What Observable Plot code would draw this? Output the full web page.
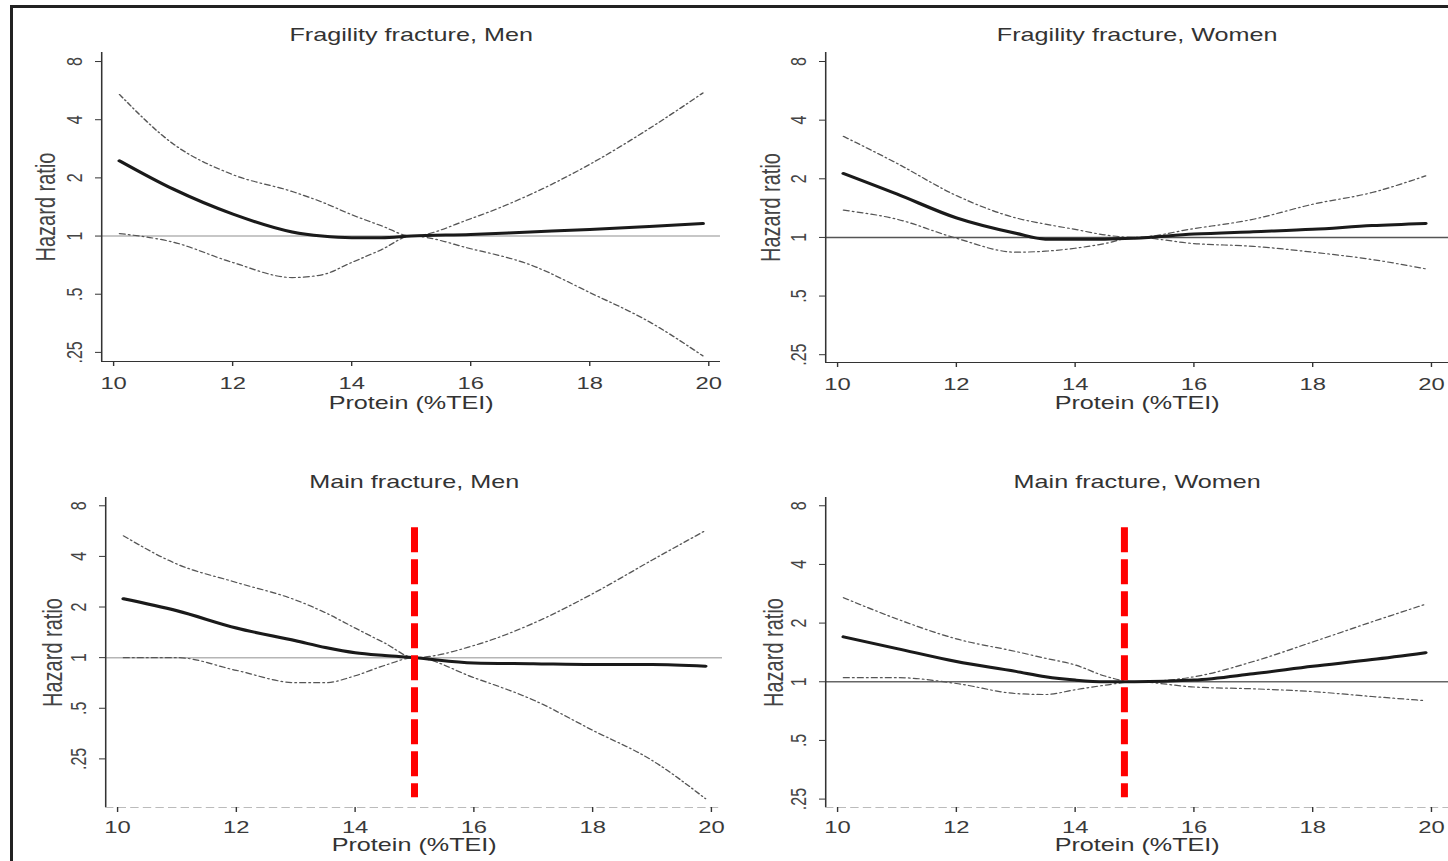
<!DOCTYPE html>
<html>
<head>
<meta charset="utf-8">
<script src="https://cdn.jsdelivr.net/npm/d3@7"></script>
<script src="https://cdn.jsdelivr.net/npm/@observablehq/plot@0.6"></script>
<style>
  html, body { margin: 0; padding: 0; background: #fff; }
  #wrap { position: relative; width: 1448px; height: 861px; overflow: hidden; background: #fff; }
  .panel { position: absolute; transform-origin: 0 0; }
  #frameline { position: absolute; left: 10px; top: 5px; width: 1460px; height: 880px;
               border-left: 3px solid #222; border-top: 3px solid #222; pointer-events: none; }
</style>
</head>
<body>
<div id="wrap"><div id="frameline"></div></div>
<script>
// ---------------- data ----------------
const protein = [10.1, 11, 12, 13, 13.5, 14, 14.5, 15, 16, 17, 18, 19, 19.9];
const xTicks = [10, 12, 14, 16, 18, 20];
const yTicks = [0.25, 0.5, 1, 2, 4, 8];
const yTickLabels = [".25", ".5", "1", "2", "4", "8"];
const xLabel = "Protein (%TEI)";
const yLabel = "Hazard ratio";
const panelTitles = ["Fragility fracture, Men", "Fragility fracture, Women", "Main fracture, Men", "Main fracture, Women"];

// Fragility fracture, Men
const fragMenHR = [2.45, 1.75, 1.30, 1.05, 1.00, 0.98, 0.98, 1.00, 1.02, 1.05, 1.08, 1.12, 1.16];
const fragMenHi = [5.4, 3.0, 2.08, 1.70, 1.50, 1.29, 1.13, 1.00, 1.23, 1.64, 2.35, 3.6, 5.5];
const fragMenLo = [1.03, 0.93, 0.73, 0.61, 0.63, 0.73, 0.85, 1.00, 0.86, 0.71, 0.51, 0.36, 0.24];

// Fragility fracture, Women
const fragWomenHR = [2.13, 1.67, 1.26, 1.05, 0.98, 0.98, 0.98, 0.99, 1.04, 1.07, 1.10, 1.15, 1.18];
const fragWomenHi = [3.3, 2.4, 1.64, 1.26, 1.17, 1.10, 1.03, 1.00, 1.11, 1.24, 1.48, 1.70, 2.07];
const fragWomenLo = [1.38, 1.24, 0.99, 0.84, 0.85, 0.88, 0.93, 1.00, 0.93, 0.90, 0.84, 0.77, 0.69];

// Main fracture, Men
const mainMenHR = [2.24, 1.90, 1.50, 1.26, 1.15, 1.07, 1.03, 1.00, 0.93, 0.92, 0.91, 0.91, 0.89];
const mainMenHi = [5.3, 3.6, 2.8, 2.2, 1.85, 1.50, 1.22, 1.00, 1.18, 1.60, 2.4, 3.8, 5.7];
const mainMenLo = [1.00, 1.00, 0.84, 0.71, 0.71, 0.78, 0.90, 1.00, 0.76, 0.56, 0.37, 0.245, 0.145];

// Main fracture, Women
const mainWomenHR = [1.70, 1.48, 1.27, 1.13, 1.06, 1.02, 1.00, 1.00, 1.02, 1.10, 1.20, 1.30, 1.41];
const mainWomenHi = [2.7, 2.1, 1.66, 1.43, 1.32, 1.22, 1.07, 1.00, 1.06, 1.27, 1.60, 2.03, 2.5];
const mainWomenLo = [1.05, 1.05, 0.98, 0.87, 0.86, 0.91, 0.96, 1.00, 0.94, 0.92, 0.89, 0.84, 0.80];

// reference protein level marked in red (main fracture panels)
const refProteinMen = 15;
const refProteinWomen = 14.83;

// ---------------- drawing ----------------
const S = 1.4; // the source figure is stretched horizontally
const FONT = "'Liberation Sans', Arial, sans-serif";

function drawPanel(cfg) {
  const rows = protein.map((x, i) => ({x, hr: cfg.hr[i], lo: cfg.lo[i], hi: cfg.hi[i]}));
  const yLabelRows = yTicks.map((v, i) => ({v, label: yTickLabels[i]}));
  const ciStyle = {x: "x", stroke: "#555", strokeWidth: 1.2, strokeDasharray: "4,2.5,1,2.5", curve: "monotone-x"};
  const marks = [
    Plot.ruleY([1], {stroke: cfg.refColor, strokeWidth: 1.5}),
    Plot.line(rows, {...ciStyle, y: "hi"}),
    Plot.line(rows, {...ciStyle, y: "lo"}),
    Plot.line(rows, {x: "x", y: "hr", stroke: "#1a1a1a", strokeWidth: 3, curve: "monotone-x"}),
    Plot.ruleX([cfg.xdom[0]], {stroke: "#333", strokeWidth: 1.1}),
    Plot.ruleY([cfg.ydom[0]], {stroke: cfg.xAxisColor, strokeWidth: 1.2, strokeDasharray: cfg.xAxisDash}),
    Plot.axisX({ticks: xTicks, tickSize: 5, tickPadding: cfg.xtp, lineAnchor: "middle", fontSize: 17,
                fill: "#3a3a3a", label: null}),
    Plot.axisY({ticks: yTicks, tickSize: 6 / S, text: null, label: null}),
    Plot.text(yLabelRows, {y: "v", text: "label", frameAnchor: "left", dx: -(6 + cfg.ytp) / S, rotate: -90,
                           textAnchor: "middle", lineAnchor: "middle", fontSize: 16, fill: "#444"}),
    Plot.text([cfg.title], {text: d => d, frameAnchor: "top", dy: cfg.titleDy, fontSize: 18, fill: "#333", lineAnchor: "middle"}),
    Plot.text([xLabel], {text: d => d, frameAnchor: "bottom", dy: cfg.xlDy, fontSize: 18, fill: "#333", lineAnchor: "middle"}),
    Plot.text([yLabel], {text: d => d, frameAnchor: "left", dx: -cfg.ylOff / S, rotate: -90, fontSize: 20,
                         fill: "#444", lineAnchor: "middle", textAnchor: "middle"})
  ];
  if (cfg.refX != null) {
    marks.push(Plot.ruleX([cfg.refX], {y1: cfg.vy1, y2: cfg.vy2, stroke: "#ff0000",
                                       strokeWidth: 7 / S, strokeDasharray: "25,7"}));
  }
  const svg = Plot.plot({
    width: cfg.width / S,
    height: cfg.height,
    marginLeft: cfg.ml / S,
    marginRight: cfg.mr / S,
    marginTop: cfg.mt,
    marginBottom: cfg.mb,
    x: {type: "linear", domain: cfg.xdom},
    y: {type: "log", domain: cfg.ydom},
    style: {fontFamily: FONT, color: "#333", background: "transparent", overflow: "visible"},
    marks
  });
  const div = document.createElement("div");
  div.className = "panel";
  div.style.left = cfg.left + "px";
  div.style.top = cfg.top + "px";
  div.style.width = (cfg.width / S) + "px";
  div.style.height = cfg.height + "px";
  div.style.transform = `scaleX(${S})`;
  div.appendChild(svg);
  document.getElementById("wrap").insertBefore(div, document.getElementById("frameline"));
}

drawPanel({
  title: panelTitles[0], hr: fragMenHR, hi: fragMenHi, lo: fragMenLo,
  left: 0, top: 0, width: 724, height: 430, ml: 101, mr: 4, mt: 52, mb: 69,
  xdom: [9.8, 20.2], ydom: [0.2243, 8.91],
  refColor: "#b5b5b5", xAxisColor: "#333", xAxisDash: null,
  xtp: 17, ytp: 21, titleDy: -17, xlDy: 42, ylOff: 56
});
drawPanel({
  title: panelTitles[1], hr: fragWomenHR, hi: fragWomenHi, lo: fragWomenLo,
  left: 724, top: 0, width: 724, height: 430, ml: 101, mr: 0, mt: 52, mb: 68,
  xdom: [9.8, 20.29], ydom: [0.228, 8.9],
  refColor: "#555", xAxisColor: "#333", xAxisDash: null,
  xtp: 17, ytp: 21, titleDy: -17, xlDy: 41, ylOff: 55
});
drawPanel({
  title: panelTitles[2], hr: mainMenHR, hi: mainMenHi, lo: mainMenLo,
  left: 0, top: 430, width: 724, height: 431, ml: 105, mr: 2, mt: 67, mb: 54,
  xdom: [9.8, 20.19], ydom: [0.1285, 8.96],
  refColor: "#b5b5b5", xAxisColor: "#bbb", xAxisDash: "6,3",
  xtp: 15, ytp: 21, titleDy: -15, xlDy: 38, ylOff: 53,
  refX: refProteinMen, vy1: 5.92, vy2: 0.1466
});
drawPanel({
  title: panelTitles[3], hr: mainWomenHR, hi: mainWomenHi, lo: mainWomenLo,
  left: 724, top: 430, width: 724, height: 431, ml: 101, mr: 0, mt: 67, mb: 54,
  xdom: [9.8, 20.29], ydom: [0.2264, 8.82],
  refColor: "#666", xAxisColor: "#bbb", xAxisDash: "6,3",
  xtp: 15, ytp: 21, titleDy: -15, xlDy: 38, ylOff: 52,
  refX: refProteinWomen, vy1: 6.17, vy2: 0.254
});
</script>
</body>
</html>
